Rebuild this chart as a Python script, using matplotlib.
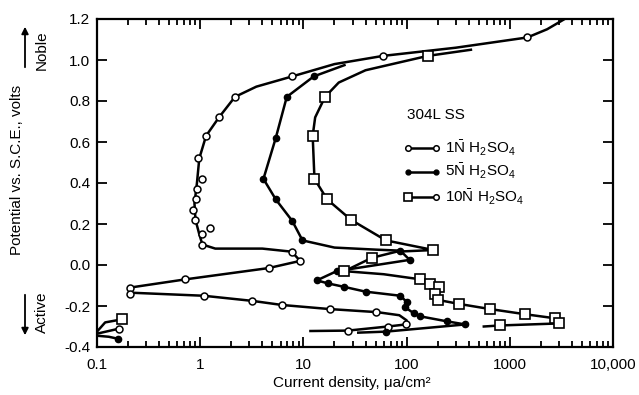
import numpy as np
import matplotlib
matplotlib.use('Agg')
import matplotlib.pyplot as plt
from matplotlib.ticker import FixedLocator, FixedFormatter, LogLocator, NullFormatter

plt.rcParams['font.family'] = ['Liberation Sans', 'DejaVu Sans']
plt.rcParams['mathtext.fontset'] = 'custom'
plt.rcParams['mathtext.rm'] = 'Liberation Sans'
plt.rcParams['mathtext.it'] = 'Liberation Sans:italic'

# 1N H2SO4 (open circles) - line path, then the plotted points
n1_line_i = [3400, 2300, 1480, 300, 59, 20, 7.8, 3.5, 2.17, 1.52, 1.14, 0.98, 0.93, 0.88, 0.9,
             0.98, 1.05, 1.4, 4, 7.7, 9.3, 4.6, 0.72, 0.21, 0.21, 1.08, 3.2, 6.2, 18, 52, 85,
             100, 98, 66, 27, 11.7]
n1_line_v = [1.2, 1.15, 1.11, 1.06, 1.02, 0.98, 0.92, 0.87, 0.82, 0.72, 0.63, 0.52, 0.4, 0.3, 0.22,
             0.15, 0.1, 0.08, 0.08, 0.065, 0.02, -0.015, -0.07, -0.11, -0.135, -0.15, -0.175, -0.195,
             -0.215, -0.23, -0.245, -0.27, -0.29, -0.3, -0.32, -0.322]
n1_pts_i = [1480, 59, 7.8, 2.17, 1.52, 1.14, 0.96, 1.05, 0.93, 0.91, 0.86, 0.89, 1.25, 1.05, 1.05,
            7.7, 9.3, 4.6, 0.72, 0.21, 0.21, 1.08, 3.2, 6.2, 18, 50, 98, 66, 27]
n1_pts_v = [1.11, 1.02, 0.92, 0.82, 0.72, 0.63, 0.52, 0.42, 0.37, 0.32, 0.27, 0.22, 0.18, 0.15, 0.1,
            0.065, 0.02, -0.015, -0.07, -0.11, -0.14, -0.15, -0.175, -0.195, -0.215, -0.23, -0.29,
            -0.3, -0.32]
n1_low_i = [0.1, 0.165]
n1_low_v = [-0.335, -0.31]

# 5N H2SO4 (filled circles)
n5_line_i = [25, 12.6, 6.9, 5.4, 4.1, 5.4, 7.8, 9.8, 20, 50, 87, 107, 21, 13.5, 17.4, 25, 40, 87,
             100, 96, 117, 134, 247, 370, 63, 34]
n5_line_v = [0.975, 0.92, 0.82, 0.62, 0.42, 0.32, 0.215, 0.12, 0.085, 0.075, 0.07, 0.025, -0.03,
             -0.075, -0.09, -0.107, -0.13, -0.15, -0.18, -0.205, -0.235, -0.25, -0.275, -0.29,
             -0.325, -0.33]
n5_pts_i = [12.6, 6.9, 5.4, 4.1, 5.4, 7.8, 9.8, 87, 107, 21, 13.5, 17.4, 25, 40, 87, 100, 96, 117,
            134, 247, 370, 63]
n5_pts_v = [0.92, 0.82, 0.62, 0.42, 0.32, 0.215, 0.12, 0.07, 0.025, -0.03, -0.075, -0.09, -0.107,
            -0.13, -0.15, -0.18, -0.205, -0.235, -0.25, -0.275, -0.29, -0.325]
n5_low_i = [0.1, 0.13, 0.16]
n5_low_v = [-0.345, -0.35, -0.36]

# 10N H2SO4 (squares)
n10_line_i = [420, 160, 40, 22, 16.2, 13, 12.3, 12.8, 17, 29, 63, 182, 80, 46, 25, 60, 136, 170,
              208, 190, 200, 323, 645, 1400, 2750, 3000, 800, 560]
n10_line_v = [1.05, 1.02, 0.95, 0.89, 0.82, 0.72, 0.63, 0.42, 0.32, 0.22, 0.12, 0.073, 0.065, 0.035,
              -0.03, -0.045, -0.07, -0.095, -0.105, -0.14, -0.17, -0.19, -0.215, -0.24, -0.26,
              -0.285, -0.295, -0.3]
n10_pts_i = [160, 16.2, 12.3, 12.8, 17, 29, 63, 182, 46, 25, 136, 170, 208, 190, 200, 323, 645,
             1400, 2750, 3000, 800]
n10_pts_v = [1.02, 0.82, 0.63, 0.42, 0.32, 0.22, 0.12, 0.073, 0.035, -0.03, -0.07, -0.095, -0.105,
             -0.14, -0.17, -0.19, -0.215, -0.24, -0.26, -0.285, -0.295]
n10_low_i = [0.1, 0.12, 0.175]
n10_low_v = [-0.325, -0.28, -0.265]

x_ticks = [0.1, 1, 10, 100, 1000, 10000]
x_labels = ['0.1', '1', '10', '100', '1000', '10,000']
y_ticks = [-0.4, -0.2, 0.0, 0.2, 0.4, 0.6, 0.8, 1.0, 1.2]

lw = 1.8
open_c = dict(marker='o', ms=5, mfc='white', mec='black', mew=1.1, ls='none')
fill_c = dict(marker='o', ms=4.5, mfc='black', mec='black', ls='none')
sq = dict(marker='s', ms=6.5, mfc='white', mec='black', mew=1.2, ls='none')

fig = plt.figure(figsize=(6.39, 3.95), dpi=100)
ax = fig.add_axes([97 / 639, 1 - 347 / 395, 516 / 639, 328 / 395])
ax.set_xscale('log')

ax.plot(n1_line_i, n1_line_v, color='black', lw=lw)
ax.plot(n1_low_i, n1_low_v, color='black', lw=lw)
ax.plot(n5_line_i, n5_line_v, color='black', lw=lw)
ax.plot(n5_low_i, n5_low_v, color='black', lw=lw)
ax.plot(n10_line_i, n10_line_v, color='black', lw=lw)
ax.plot(n10_low_i, n10_low_v, color='black', lw=lw)

ax.plot(n1_pts_i, n1_pts_v, **open_c)
ax.plot(n1_low_i[-1:], n1_low_v[-1:], **open_c)
ax.plot(n5_pts_i, n5_pts_v, **fill_c)
ax.plot(n5_low_i[-1:], n5_low_v[-1:], **fill_c)
ax.plot(n10_pts_i, n10_pts_v, **sq)
ax.plot(n10_low_i[-1:], n10_low_v[-1:], **sq)

ax.set_xlim(0.1, 10000)
ax.set_ylim(-0.4, 1.2)
ax.xaxis.set_major_locator(FixedLocator(x_ticks))
ax.xaxis.set_major_formatter(FixedFormatter(x_labels))
ax.xaxis.set_minor_locator(LogLocator(base=10, subs=np.arange(2, 10), numticks=20))
ax.xaxis.set_minor_formatter(NullFormatter())
ax.set_yticks(y_ticks)
ax.set_yticklabels(['%.1f' % v for v in y_ticks])
ax.tick_params(which='both', direction='in', top=True, right=True, labelsize=11, width=1.3)
ax.tick_params(which='major', length=7, pad=5)
ax.tick_params(axis='x', which='major', pad=8)
ax.tick_params(which='minor', length=4)
for s in ax.spines.values():
    s.set_linewidth(1.6)

# legend drawn by hand, as in the original figure
ax.text(0.601, 0.707, '304L SS', transform=ax.transAxes, fontsize=11, va='center')
rows = [0.607, 0.534, 0.457]
names = [r'1$\bar{\mathrm{N}}$ H$_2$SO$_4$', r'5$\bar{\mathrm{N}}$ H$_2$SO$_4$',
         r'10$\bar{\mathrm{N}}$ H$_2$SO$_4$']
left_m = [open_c, fill_c, sq]
right_m = [open_c, fill_c, open_c]
for y, name, lm, rm in zip(rows, names, left_m, right_m):
    ax.plot([0.603, 0.657], [y, y], color='black', lw=lw, transform=ax.transAxes)
    ax.plot([0.603], [y], transform=ax.transAxes, **dict(lm, ms=lm['ms'] - 1))
    ax.plot([0.657], [y], transform=ax.transAxes, **dict(rm, ms=rm['ms'] - 1))
    ax.text(0.675, y, name, transform=ax.transAxes, fontsize=11, va='center')

fig.text(352 / 639, 1 - 383 / 395, 'Current density, μa/cm²', ha='center', va='center', fontsize=11)
fig.text(17 / 639, 1 - 170 / 395, 'Potential vs. S.C.E., volts', rotation=90,
         ha='center', va='center', fontsize=11)
fig.text(42 / 639, 1 - 50 / 395, 'Noble', rotation=90, ha='center', va='center', fontsize=11)
fig.text(42 / 639, 1 - 312 / 395, 'Active', rotation=90, ha='center', va='center', fontsize=11)
fig.add_artist(matplotlib.patches.FancyArrowPatch((25 / 639, 1 - 70 / 395), (25 / 639, 1 - 24 / 395),
               transform=fig.transFigure, arrowstyle='-|>', mutation_scale=10, lw=1.3, color='black'))
fig.add_artist(matplotlib.patches.FancyArrowPatch((25 / 639, 1 - 292 / 395), (25 / 639, 1 - 338 / 395),
               transform=fig.transFigure, arrowstyle='-|>', mutation_scale=10, lw=1.3, color='black'))

fig.savefig('out.png', dpi=100)
